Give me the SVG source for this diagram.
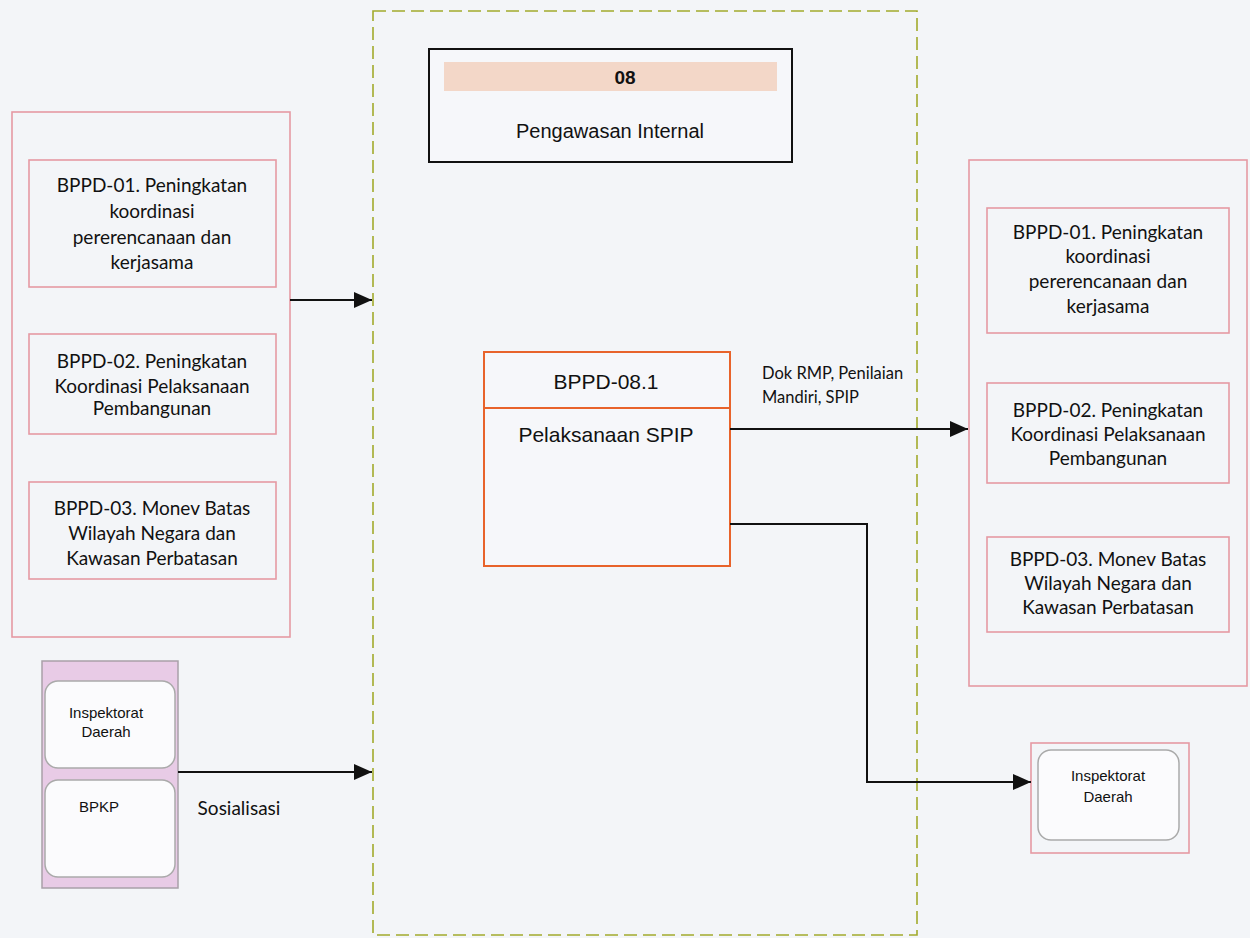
<svg xmlns="http://www.w3.org/2000/svg" width="1250" height="938" viewBox="0 0 1250 938">
  <style>
    .bg { fill: #f3f5f8; }
    .pink { fill: none; stroke: #e59aa3; stroke-width: 1.6; }
    .scope { fill: none; stroke: #a2ab2c; stroke-width: 1.6; stroke-dasharray: 13 6; }
    .cal { font-family: Lato, "Open Sans", sans-serif; fill: #111; text-anchor: middle; }
    .ari { font-family: "Liberation Sans", Arial, sans-serif; fill: #111; text-anchor: middle; }
    .link { fill: none; stroke: #111; stroke-width: 2; }
    .soft { fill: #fbfbfd; stroke: #aaaaaa; stroke-width: 1.5; }
  </style>
  <defs>
    <marker id="arrow" viewBox="0 0 18 16" refX="18" refY="8" markerWidth="18" markerHeight="16" orient="auto" markerUnits="userSpaceOnUse">
      <path d="M0,0 L18,8 L0,16 Z" fill="#111"/>
    </marker>
  </defs>

  <rect class="bg" x="0" y="0" width="1250" height="938"/>

  <!-- process scope -->
  <g id="scope">
    <rect class="scope" x="373" y="11" width="544" height="924"/>
  </g>

  <!-- process header -->
  <g id="header">
    <rect x="429" y="49" width="363" height="113" fill="#f6f7fa" stroke="#111" stroke-width="2"/>
    <rect x="444" y="62" width="333" height="29" fill="#f3d7c8"/>
    <text class="ari" x="625" y="84" font-size="19" font-weight="bold">08</text>
    <text class="ari" x="610" y="138" font-size="20">Pengawasan Internal</text>
  </g>

  <!-- input group (left) -->
  <g id="inputs">
    <rect class="pink" x="12" y="112" width="278" height="525"/>
  </g>
  <g id="in-bppd01">
    <rect class="pink" x="29" y="160" width="247" height="127"/>
    <text class="cal" font-size="19" x="152" y="192">BPPD-01. Peningkatan</text>
    <text class="cal" font-size="19" x="152" y="218">koordinasi</text>
    <text class="cal" font-size="19" x="152" y="244">pererencanaan dan</text>
    <text class="cal" font-size="19" x="152" y="269">kerjasama</text>
  </g>
  <g id="in-bppd02">
    <rect class="pink" x="29" y="334" width="247" height="100"/>
    <text class="cal" font-size="19" x="152" y="368">BPPD-02. Peningkatan</text>
    <text class="cal" font-size="19" x="152" y="393">Koordinasi Pelaksanaan</text>
    <text class="cal" font-size="19" x="152" y="415">Pembangunan</text>
  </g>
  <g id="in-bppd03">
    <rect class="pink" x="29" y="482" width="247" height="97"/>
    <text class="cal" font-size="19" x="152" y="515">BPPD-03. Monev Batas</text>
    <text class="cal" font-size="19" x="152" y="540">Wilayah Negara dan</text>
    <text class="cal" font-size="19" x="152" y="565">Kawasan Perbatasan</text>
  </g>

  <!-- supporting units -->
  <g id="support">
    <rect x="42" y="661" width="136" height="227" fill="#e8cbe6" stroke="#a9a0a8" stroke-width="1.5"/>
  </g>
  <g id="sup-inspektorat">
    <rect class="soft" x="45" y="681" width="130" height="87" rx="13"/>
    <text class="ari" font-size="15" x="106" y="718">Inspektorat</text>
    <text class="ari" font-size="15" x="106" y="737">Daerah</text>
  </g>
  <g id="sup-bpkp">
    <rect class="soft" x="45" y="780" width="130" height="97" rx="13"/>
    <text class="ari" font-size="15" x="99" y="812">BPKP</text>
  </g>

  <!-- activity -->
  <g id="activity">
    <rect x="484" y="352" width="246" height="214" fill="#f6f7fa" stroke="#e8632b" stroke-width="2"/>
    <line x1="484" y1="408" x2="730" y2="408" stroke="#e8632b" stroke-width="2"/>
    <text class="ari" font-size="21" x="606" y="389">BPPD-08.1</text>
    <text class="ari" font-size="21" x="606" y="442">Pelaksanaan SPIP</text>
  </g>

  <!-- output group (right) -->
  <g id="outputs">
    <rect class="pink" x="969" y="160" width="278" height="526"/>
  </g>
  <g id="out-bppd01">
    <rect class="pink" x="987" y="208" width="242" height="125"/>
    <text class="cal" font-size="19" x="1108" y="239">BPPD-01. Peningkatan</text>
    <text class="cal" font-size="19" x="1108" y="263">koordinasi</text>
    <text class="cal" font-size="19" x="1108" y="288">pererencanaan dan</text>
    <text class="cal" font-size="19" x="1108" y="313">kerjasama</text>
  </g>
  <g id="out-bppd02">
    <rect class="pink" x="987" y="383" width="242" height="100"/>
    <text class="cal" font-size="19" x="1108" y="417">BPPD-02. Peningkatan</text>
    <text class="cal" font-size="19" x="1108" y="441">Koordinasi Pelaksanaan</text>
    <text class="cal" font-size="19" x="1108" y="465">Pembangunan</text>
  </g>
  <g id="out-bppd03">
    <rect class="pink" x="987" y="537" width="242" height="95"/>
    <text class="cal" font-size="19" x="1108" y="566">BPPD-03. Monev Batas</text>
    <text class="cal" font-size="19" x="1108" y="590">Wilayah Negara dan</text>
    <text class="cal" font-size="19" x="1108" y="614">Kawasan Perbatasan</text>
  </g>

  <!-- recipient -->
  <g id="out-inspektorat">
    <rect class="pink" x="1031" y="743" width="158" height="110"/>
    <rect class="soft" x="1038" y="750" width="141" height="90" rx="13"/>
    <text class="ari" font-size="15" x="1108" y="781">Inspektorat</text>
    <text class="ari" font-size="15" x="1108" y="802">Daerah</text>
  </g>

  <!-- connectors -->
  <g id="connectors">
    <line class="link" x1="290" y1="300" x2="372" y2="300" marker-end="url(#arrow)"/>
    <line class="link" x1="178" y1="772" x2="372" y2="772" marker-end="url(#arrow)"/>
    <line class="link" x1="730" y1="429" x2="968" y2="429" marker-end="url(#arrow)"/>
    <polyline class="link" points="730,524 867,524 867,782 1031,782" marker-end="url(#arrow)"/>
    <text class="cal" font-size="19" x="239" y="815">Sosialisasi</text>
    <text class="cal" font-size="16.5" x="762" y="379" style="text-anchor:start">Dok RMP, Penilaian</text>
    <text class="cal" font-size="16.5" x="762" y="403" style="text-anchor:start">Mandiri, SPIP</text>
  </g>
</svg>
